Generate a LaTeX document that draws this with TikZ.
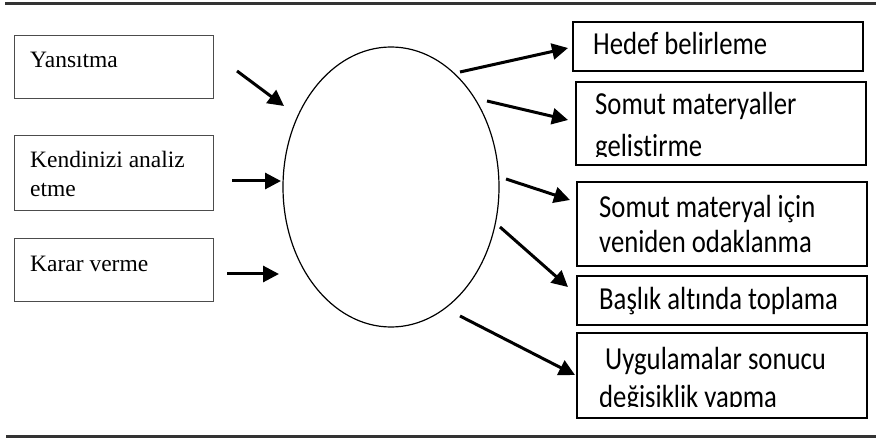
\documentclass[tikz,border=0pt]{standalone}
\usepackage{fontspec}
\usepackage{graphicx}
\setmainfont{Liberation Serif}
\newfontfamily\calib[Ligatures=NoCommon]{Carlito}
\usetikzlibrary{arrows.meta,shapes.geometric}

% Carlito text, drawn a little taller than it is wide
\newcommand{\tallbox}[2]{\scalebox{1}[1.2]{\vtop{\baselineskip=#1\relax #2}}}

\begin{document}
\begin{tikzpicture}[x=1pt,y=-1pt,
  leftbox/.style={draw=black!70, line width=1pt, rectangle, inner sep=0pt, minimum width=199pt},
  rightbox/.style={draw=black, line width=1.4pt, rectangle, inner sep=0pt, minimum width=290pt},
  ltext/.style={anchor=base west, inner sep=0pt, font=\fontsize{23.5}{29}\selectfont},
  rtext/.style={anchor=base west, inner sep=0pt, font=\calib\fontsize{26.7}{35}\selectfont},
  flow/.style={line width=3pt, -{Triangle[length=16pt,width=16pt]}},
  rulebar/.style={line width=3pt, draw=black!80}]

\useasboundingbox (0,0) rectangle (876,438);

% horizontal rules framing the figure
\coordinate (rt1) at (5,4);   \coordinate (rt2) at (876,4);
\coordinate (rb1) at (6,436); \coordinate (rb2) at (876,436);
\draw[rulebar] (rt1) -- (rt2);
\draw[rulebar] (rb1) -- (rb2);

% left-hand boxes
\node[leftbox, minimum height=63pt] (yans)  at (113.5,67.5)  {};
\node[leftbox, minimum height=75pt] (kend)  at (113.5,173.5) {};
\node[leftbox, minimum height=63pt] (karar) at (113.5,270.5) {};
\node[ltext] (t1) at (30,68)  {Yansıtma};
\node[ltext] (t2) at (30,168) {\vtop{\hbox{Kendinizi analiz}\hbox{etme}}};
\node[ltext] (t3) at (30,272) {Karar verme};

% central ellipse
\node[ellipse, draw, line width=1.2pt, minimum width=216pt, minimum height=280pt, inner sep=0pt] (core) at (391,187) {};

% right-hand boxes
\node[rightbox, minimum height=49pt] (hedef)  at (718,46.5)  {};
\node[rightbox, minimum height=83pt] (somut1) at (721,123.5) {};
\node[rightbox, minimum height=84pt] (somut2) at (722,224)   {};
\node[rightbox, minimum height=49pt] (baslik) at (722,300.5) {};
\node[rightbox, minimum height=85pt] (uyg)    at (722,375.5) {};

\node[rtext] (r1) at (593,55) {\tallbox{29pt}{\hbox{Hedef belirleme}}};
\begin{scope}
  \clip (somut1.north west) rectangle ([yshift=9pt]somut1.south east);
  \node[rtext] (r2) at (595,115) {\tallbox{35pt}{\hbox{Somut materyaller}\hbox{gelistirme}}};
\end{scope}
\node[rtext] (r3) at (599,218) {\tallbox{29pt}{\hbox{Somut materyal için}\hbox{veniden odaklanma}}};
\node[rtext] (r4) at (599,310) {\tallbox{29pt}{\hbox{Başlık altında toplama}}};
\begin{scope}
  \clip (uyg.north west) rectangle ([yshift=12pt]uyg.south east);
  \node[rtext] (r5) at (599,370) {\tallbox{31pt}{\hbox{ Uygulamalar sonucu}\hbox{değisiklik yapma}}};
\end{scope}

% arrow end points
\coordinate (a1s) at (237,71);  \coordinate (a1e) at (284,106);
\coordinate (a2s) at (232,181); \coordinate (a2e) at (281,181);
\coordinate (a3s) at (227,274); \coordinate (a3e) at (279,274);
\coordinate (b1s) at (460,72);  \coordinate (b1e) at (568,48);
\coordinate (b2s) at (487,101); \coordinate (b2e) at (568,120);
\coordinate (b3s) at (506,179); \coordinate (b3e) at (570,200);
\coordinate (b4s) at (500,227); \coordinate (b4e) at (568,287);
\coordinate (b5s) at (460,316); \coordinate (b5e) at (575,375);

\draw[flow] (a1s) -- (a1e);
\draw[flow] (a2s) -- (a2e);
\draw[flow] (a3s) -- (a3e);
\draw[flow] (b1s) -- (b1e);
\draw[flow] (b2s) -- (b2e);
\draw[flow] (b3s) -- (b3e);
\draw[flow] (b4s) -- (b4e);
\draw[flow] (b5s) -- (b5e);
\end{tikzpicture}
\end{document}
